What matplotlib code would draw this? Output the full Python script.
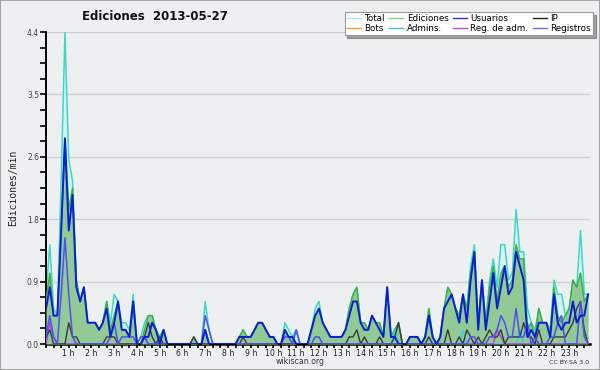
import matplotlib
matplotlib.use("Agg")
import matplotlib.pyplot as plt
from matplotlib.patches import Rectangle
from matplotlib.lines import Line2D
import numpy as np

# 10-minute slots (0..143) for 2013-05-27, values in actions/min
total = [0.7,1.4,0.5,0.4,2.3,4.4,2.6,2.3,0.9,0.6,
         0.8,0.3,0.3,0.3,0.2,0.3,0.6,0.3,0.7,0.6,
         0.3,0.3,0.2,0.7,0,0.1,0.3,0.4,0.4,0.2,
         0.1,0.2,0,0,0,0,0,0,0,0.1,
         0,0,0.6,0.2,0,0,0,0,0,0,
         0,0.1,0.2,0.1,0.1,0.2,0.3,0.3,0.2,0.1,
         0.1,0,0,0.3,0.2,0.1,0.2,0,0,0,
         0.2,0.5,0.6,0.3,0.2,0.1,0.1,0.1,0.1,0.2,
         0.5,0.7,0.8,0.3,0.3,0.2,0.4,0.3,0.3,0.1,
         0.8,0.1,0.2,0.3,0,0,0.1,0.1,0.1,0,
         0.1,0.5,0.1,0,0.1,0.5,0.8,0.7,0.5,0.4,
         0.7,0.5,1.1,1.4,0.3,0.9,0.3,0.9,1.2,0.8,
         1.4,1.4,0.9,1.0,1.9,1.3,1.3,0.5,0.3,0.2,
         0.5,0.3,0.3,0.2,0.9,0.7,0.7,0.4,0.5,0.9,
         0.8,1.6,0.7,0.7]
ediciones = [0.6,1.0,0.4,0.4,1.6,2.9,1.9,2.2,0.9,0.6,
             0.8,0.3,0.3,0.3,0.2,0.3,0.6,0.2,0.4,0.6,
             0.2,0.2,0.1,0.6,0,0,0.2,0.4,0.4,0.2,
             0.1,0.2,0,0,0,0,0,0,0,0.1,
             0,0,0.2,0,0,0,0,0,0,0,
             0,0.1,0.2,0.1,0.1,0.2,0.3,0.3,0.2,0.1,
             0.1,0,0,0.2,0.1,0.1,0,0,0,0,
             0.2,0.4,0.5,0.3,0.2,0.1,0.1,0.1,0.1,0.2,
             0.5,0.7,0.8,0.3,0.3,0.2,0.4,0.3,0.3,0.1,
             0.8,0.1,0.2,0.3,0,0,0.1,0.1,0.1,0,
             0.1,0.5,0.1,0,0.1,0.5,0.8,0.7,0.5,0.4,
             0.7,0.5,1.0,1.3,0.3,0.9,0.3,0.8,1.1,0.6,
             1.0,1.1,0.8,0.9,1.4,1.2,1.2,0.2,0.3,0.1,
             0.5,0.3,0.3,0.1,0.8,0.4,0.3,0.4,0.5,0.9,
             0.8,1.0,0.6,0.7]
usuarios = [0.5,0.8,0.4,0.4,1.6,2.9,1.6,2.1,0.8,0.6,
            0.8,0.3,0.3,0.3,0.2,0.3,0.5,0.1,0.3,0.6,
            0.2,0.2,0.1,0.6,0,0,0.1,0.1,0.3,0.2,
            0,0.2,0,0,0,0,0,0,0,0,
            0,0,0.2,0,0,0,0,0,0,0,
            0,0.1,0.1,0.1,0.1,0.2,0.3,0.3,0.2,0.1,
            0.1,0,0,0.2,0.1,0.1,0,0,0,0,
            0.2,0.4,0.5,0.3,0.2,0.1,0.1,0.1,0.1,0.2,
            0.4,0.6,0.6,0.3,0.2,0.2,0.4,0.3,0.2,0.1,
            0.8,0.1,0.1,0,0,0,0.1,0.1,0.1,0,
            0.1,0.4,0.1,0,0.1,0.5,0.6,0.7,0.5,0.3,
            0.7,0.3,0.9,1.3,0.2,0.9,0.2,0.6,1.0,0.5,
            0.8,1.1,0.7,0.8,1.3,1.1,0.9,0.1,0.2,0.1,
            0.3,0.3,0.3,0.1,0.7,0.3,0.2,0.3,0.3,0.6,
            0.3,0.4,0.4,0.7]
ip = [0.1,0.2,0,0,0,0,0.3,0.1,0.1,0,
      0,0,0,0,0,0,0.1,0.1,0.1,0,
      0,0,0,0,0,0,0.1,0.3,0.1,0,
      0.1,0,0,0,0,0,0,0,0,0.1,
      0,0,0,0,0,0,0,0,0,0,
      0,0,0.1,0,0,0,0,0,0,0,
      0,0,0,0,0,0,0,0,0,0,
      0,0,0,0,0,0,0,0,0,0,
      0.1,0.1,0.2,0,0.1,0,0,0,0.1,0,
      0,0,0.1,0.3,0,0,0,0,0,0,
      0,0.1,0,0,0,0,0.2,0,0,0.1,
      0,0.2,0.1,0,0.1,0,0.1,0.2,0.1,0.1,
      0.2,0,0.1,0.1,0.1,0.1,0.3,0.1,0.1,0,
      0.2,0,0,0,0.1,0.1,0.1,0.1,0.2,0.3,
      0.5,0.6,0.2,0]
bots = [0]*144
admins = [0,0.2,0.1,0,0,0,0,0,0,0,
          0,0,0,0,0,0,0,0,0,0,
          0,0,0,0,0,0,0,0,0,0,
          0,0,0,0,0,0,0,0,0,0,
          0,0,0.2,0,0,0,0,0,0,0,
          0,0,0,0,0,0,0,0,0,0,
          0,0,0,0,0,0,0.2,0,0,0,
          0,0,0,0,0,0,0,0,0,0,
          0,0,0,0,0,0,0,0,0,0,
          0,0,0.2,0,0,0,0,0,0,0,
          0,0,0,0,0,0,0,0,0,0,
          0.2,0,0,0,0,0,0,0,0,0,
          0,0,0,0,0,0.2,0,0,0,0,
          0,0,0,0,0,0,0,0,0,0,
          0,0,0,0]
reg_adm = [0,0.3,0.1,0,0,0,0,0,0,0,
           0,0,0,0,0,0,0,0,0,0,
           0,0,0,0,0,0,0.1,0,0,0,
           0,0,0,0,0,0,0,0,0,0,
           0,0,0,0,0,0,0,0,0,0,
           0,0,0,0,0,0,0,0,0,0,
           0,0,0,0,0,0,0,0,0,0,
           0,0,0,0,0,0,0,0,0,0,
           0,0,0,0,0,0,0,0,0,0,
           0,0,0,0,0,0,0,0,0,0,
           0,0,0,0,0,0,0,0,0,0,
           0,0,0,0,0,0,0,0,0,0.2,
           0.1,0,0,0,0,0,0,0,0,0,
           0,0,0,0,0,0,0,0,0,0,
           0,0,0,0]
registros = [0.1,0.4,0.1,0,0.7,1.5,0.7,0.1,0,0,
             0,0,0,0,0,0,0,0.1,0.3,0,
             0.1,0.1,0.1,0.1,0,0.1,0.1,0,0,0,
             0,0,0,0,0,0,0,0,0,0,
             0,0,0.4,0.2,0,0,0,0,0,0,
             0,0,0,0,0,0,0,0,0,0,
             0,0,0,0.1,0.1,0,0.2,0,0,0,
             0,0.1,0.1,0,0,0,0,0,0,0,
             0,0,0,0,0,0,0,0,0,0,
             0,0,0,0,0,0,0,0,0,0,
             0,0,0,0,0,0,0,0,0,0,
             0,0,0.1,0.1,0,0,0,0.1,0.1,0.2,
             0.4,0.3,0.1,0.1,0.5,0.1,0.1,0.3,0,0.1,
             0,0,0,0.1,0.1,0.3,0.4,0,0,0,
             0,0.6,0.1,0]

hour_labels = [f"{h} h" for h in range(1, 24)]
title = "Ediciones  2013-05-27"
ylabel = "Ediciones/min"

BG = "#eeeff1"
fig = plt.figure(figsize=(6, 3.7), dpi=100, facecolor=BG)
ax = fig.add_axes([46/600, 26/370, 544/600, 312/370])
ax.set_facecolor(BG)

x = np.arange(len(total))
ymax = 4.4
ax.set_xlim(0, 143.5)
ax.set_ylim(0, ymax)

# grid
major_y = [ymax * k / 5 for k in range(6)]
for yv in major_y[1:]:
    ax.axhline(yv, color="#cfcfcf", lw=1.0, zorder=0)

ax.fill_between(x, total, color="#d4f3ef", zorder=1, lw=0)
ax.plot(x, total, color="#3fd8c8", lw=1.1, zorder=2)
ax.fill_between(x, ediciones, color="#92ca95", zorder=3, lw=0)
ax.plot(x, ediciones, color="#3cb04a", lw=1.1, zorder=4)
ax.plot(x, bots, color="#f0a030", lw=1.0, zorder=5)
ax.plot(x, admins, color="#3ccfe0", lw=1.1, zorder=5)
ax.plot(x, reg_adm, color="#c040e0", lw=1.1, zorder=5)
ax.plot(x, ip, color="#3a3a3a", lw=1.0, zorder=6)
ax.plot(x, registros, color="#5050f0", lw=1.1, zorder=6)
ax.plot(x, usuarios, color="#0a1ed2", lw=1.4, zorder=7)

# axes styling
for s in ["top", "right"]:
    ax.spines[s].set_visible(False)
ax.spines["left"].set_linewidth(1.4)
ax.spines["bottom"].set_linewidth(1.8)

ax.set_yticks(major_y)
ax.set_yticklabels([f"{v:.1f}" for v in major_y], fontsize=5.5, color="#444444")
ax.set_yticks([ymax * k / 20 for k in range(21)], minor=True)
ax.tick_params(axis="y", which="both", length=4, width=1.2, pad=1, direction="out")

ax.set_xticks([6 * h for h in range(1, 24)])
ax.set_xticklabels(hour_labels, fontsize=5.6, color="#222222")
ax.set_xticks(np.arange(0, 144, 2), minor=True)
ax.tick_params(axis="x", which="both", length=3, width=1.2, pad=0.5, direction="out")

ax.set_ylabel(ylabel, family="DejaVu Sans Mono", fontsize=7, color="#222222", labelpad=6)

fig.text(155/600, 1 - 16/370, title, ha="center", va="center", fontsize=8.5,
         fontweight="bold", color="#111111")
fig.text(300/600, 1 - 362/370, "wikiscan.org", ha="center", va="center",
         fontsize=5.6, color="#333333")
fig.text(589/600, 1 - 362/370, "CC BY-SA 3.0", ha="right", va="center",
         fontsize=4.5, color="#333333")

# legend
labels = ["Total", "Bots", "Ediciones", "Admins.", "Usuarios", "Reg. de adm.", "IP", "Registros"]
colors = ["#aee8e0", "#f0a030", "#88d088", "#40c8d8", "#3030d8", "#d040e0", "#222222", "#7070ee"]
handles = [Line2D([], [], color=c, lw=1.0) for c in colors]
leg = fig.legend(handles, labels, ncol=4, loc="upper right",
                 bbox_to_anchor=(593/600, 1 - 12/370), fontsize=6.3,
                 frameon=True, fancybox=False, shadow=True, framealpha=1,
                 edgecolor="#999999", handlelength=1.6, handletextpad=0.4,
                 columnspacing=0.5, borderpad=0.25, labelspacing=0.05,
                 borderaxespad=0)
leg.get_frame().set_linewidth(0.8)

fig.patches.append(Rectangle((0, 0), 1, 1, transform=fig.transFigure,
                             fill=False, edgecolor="#a8a8a8", lw=1.5))

fig.savefig("out.png", dpi=100, facecolor=BG)
